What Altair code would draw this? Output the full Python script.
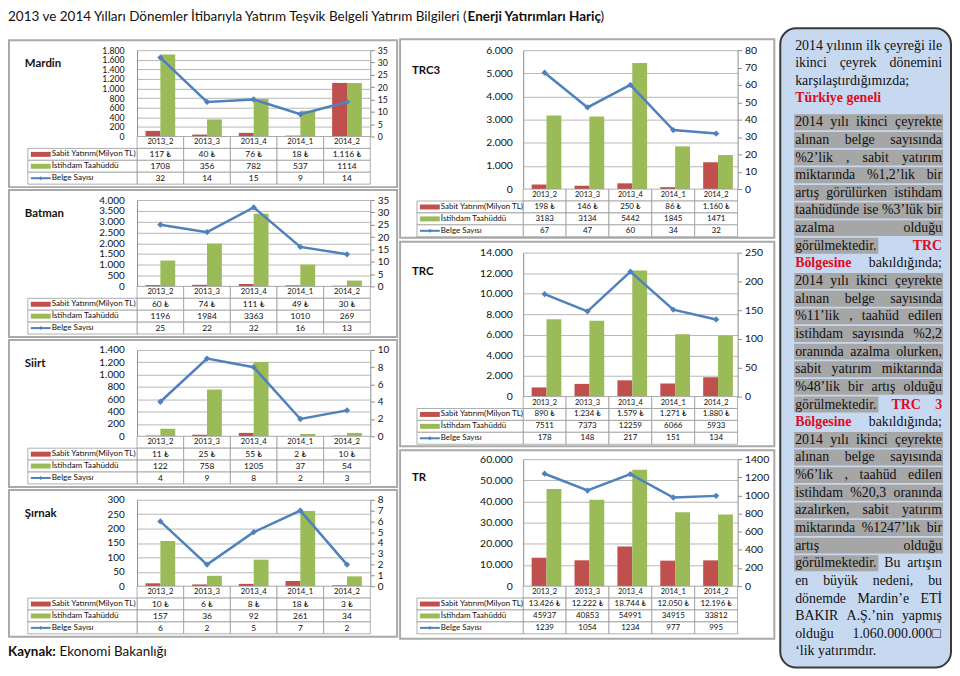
import altair as alt
import pandas as pd

# ---------------- data ----------------
periods = ["2013_2", "2013_3", "2013_4", "2014_1", "2014_2"]
series_names = ["Sabit Yatırım(Milyon TL)", "İstihdam Taahüddü"]
line_name = "Belge Sayısı"

mardin_sabit = [117, 40, 76, 18, 1116]
mardin_istihdam = [1708, 356, 782, 537, 1114]
mardin_belge = [32, 14, 15, 9, 14]
mardin_lticks = [0, 200, 400, 600, 800, 1000, 1200, 1400, 1600, 1800]
mardin_rticks = [0, 5, 10, 15, 20, 25, 30, 35]

batman_sabit = [60, 74, 111, 49, 30]
batman_istihdam = [1196, 1984, 3363, 1010, 269]
batman_belge = [25, 22, 32, 16, 13]
batman_lticks = [0, 500, 1000, 1500, 2000, 2500, 3000, 3500, 4000]
batman_rticks = [0, 5, 10, 15, 20, 25, 30, 35]

siirt_sabit = [11, 25, 55, 2, 10]
siirt_istihdam = [122, 758, 1205, 37, 54]
siirt_belge = [4, 9, 8, 2, 3]
siirt_lticks = [0, 200, 400, 600, 800, 1000, 1200, 1400]
siirt_rticks = [0, 2, 4, 6, 8, 10]

sirnak_sabit = [10, 6, 8, 18, 3]
sirnak_istihdam = [157, 36, 92, 261, 34]
sirnak_belge = [6, 2, 5, 7, 2]
sirnak_lticks = [0, 50, 100, 150, 200, 250, 300]
sirnak_rticks = [0, 1, 2, 3, 4, 5, 6, 7, 8]

trc3_sabit = [198, 146, 250, 86, 1160]
trc3_istihdam = [3183, 3134, 5442, 1845, 1471]
trc3_belge = [67, 47, 60, 34, 32]
trc3_lticks = [0, 1000, 2000, 3000, 4000, 5000, 6000]
trc3_rticks = [0, 10, 20, 30, 40, 50, 60, 70, 80]

trc_sabit = [890, 1234, 1579, 1271, 1880]
trc_istihdam = [7511, 7373, 12259, 6066, 5933]
trc_belge = [178, 148, 217, 151, 134]
trc_lticks = [0, 2000, 4000, 6000, 8000, 10000, 12000, 14000]
trc_rticks = [0, 50, 100, 150, 200, 250]

tr_sabit = [13426, 12222, 18744, 12050, 12196]
tr_istihdam = [45937, 40853, 54991, 34915, 33812]
tr_belge = [1239, 1054, 1234, 977, 995]
tr_lticks = [0, 10000, 20000, 30000, 40000, 50000, 60000]
tr_rticks = [0, 200, 400, 600, 800, 1000, 1200, 1400]

title_normal = "2013 ve 2014 Yılları Dönemler İtibarıyla Yatırım Teşvik Belgeli Yatırım Bilgileri ("
title_bold = "Enerji Yatırımları Hariç"
title_end = ")"
source_bold = "Kaynak:"
source_text = "Ekonomi Bakanlığı"

text_lines = [
    ("2014 yılının ilk çeyreği ile", True, "none"),
    ("ikinci çeyrek dönemini", True, "none"),
    ("karşılaştırdığımızda;", False, "none"),
    ("*Türkiye* *geneli*", False, "none"),
    ("2014 yılı ikinci çeyrekte", True, "all"),
    ("alınan belge sayısında", True, "all"),
    ("%2’lik , sabit yatırım", True, "all"),
    ("miktarında %1,2’lık bir", True, "all"),
    ("artış görülürken istihdam", True, "all"),
    ("taahüdünde ise %3’lük bir", True, "all"),
    ("azalma olduğu", True, "all"),
    ("görülmektedir. *TRC*", True, 1),
    ("*Bölgesine* bakıldığında;", True, "none"),
    ("2014 yılı ikinci çeyrekte", True, "all"),
    ("alınan belge sayısında", True, "all"),
    ("%11’lik , taahüd edilen", True, "all"),
    ("istihdam sayısında %2,2", True, "all"),
    ("oranında azalma olurken,", True, "all"),
    ("sabit yatırım miktarında", True, "all"),
    ("%48’lik bir artış olduğu", True, "all"),
    ("görülmektedir. *TRC* *3*", True, 1),
    ("*Bölgesine* bakıldığında;", True, "none"),
    ("2014 yılı ikinci çeyrekte", True, "all"),
    ("alınan belge sayısında", True, "all"),
    ("%6’lık , taahüd edilen", True, "all"),
    ("istihdam %20,3 oranında", True, "all"),
    ("azalırken, sabit yatırım", True, "all"),
    ("miktarında %1247’lık bir", True, "all"),
    ("artış olduğu", True, "all"),
    ("görülmektedir. Bu artışın", True, 1),
    ("en büyük nedeni, bu", True, "none"),
    ("dönemde Mardin’e ETİ", True, "none"),
    ("BAKIR A.Ş.’nin yapmış", True, "none"),
    ("olduğu 1.060.000.000□", True, "none"),
    ("‘lik yatırımdır.", False, "none"),
]

# ---------------- styles ----------------
RED = "#c0504d"
GREEN = "#9bbb59"
BLUE = "#4f81bd"
GRID = "#a6a6a6"
AXC = "#8c8c8c"
CELL = "#9a9a9a"
BORDER = "#a9a9a9"
FONT = "Lato"
TH = 48

one = pd.DataFrame({"k": [0]})


def tl(v):
    return f"{v:,}".replace(",", ".") + " ₺"


def panel(name, sabit, istihdam, belge, lticks, rticks, W, H, bleft, bright, btop, bbot,
          nx, ny, lw, fs_ax, fs_tab, fs_hdr, fs_lab, bar_po, lpad, extra=()):
    bars_df = pd.DataFrame({
        "period": periods * 2,
        "series": [series_names[0]] * 5 + [series_names[1]] * 5,
        "value": list(sabit) + list(istihdam),
    })
    line_df = pd.DataFrame({"period": periods, "belge": belge})
    rows_t = []
    for p, s, i, b in zip(periods, sabit, istihdam, belge):
        rows_t += [(p, "hdr", p), (p, "s", tl(s)), (p, "i", str(i)), (p, "b", str(b))]
    tab_df = pd.DataFrame(rows_t, columns=["period", "row", "text"])
    lab_df = pd.DataFrame({"row": ["s", "i", "b"], "label": series_names + [line_name]})

    X = alt.X("period:N", sort=periods,
              scale=alt.Scale(type="band", domain=periods, paddingInner=0, paddingOuter=0),
              axis=None)
    rows = ["hdr", "s", "i", "b"]

    def RY():
        return alt.Y("row:N", sort=rows,
                     scale=alt.Scale(type="band", domain=rows, range=[H, H + TH],
                                     paddingInner=0, paddingOuter=0),
                     axis=None)

    border = alt.Chart(one).mark_rect(filled=False, stroke=BORDER, strokeWidth=2).encode(
        x=alt.value(-bleft), x2=alt.value(W + bright),
        y=alt.value(-btop), y2=alt.value(H + bbot))

    bars = alt.Chart(bars_df).mark_bar().encode(
        x=X,
        xOffset=alt.XOffset("series:N", sort=series_names,
                            scale=alt.Scale(domain=series_names, paddingInner=0, paddingOuter=bar_po)),
        y=alt.Y("value:Q",
                scale=alt.Scale(domain=[0, lticks[-1]], range=[H, 0], nice=False),
                axis=alt.Axis(orient="left", values=lticks, title=None,
                              labelExpr="replace(format(datum.value, ','), ',', '.')",
                              grid=True, gridColor=GRID, gridWidth=0.8,
                              domainColor=AXC, ticks=False, labelPadding=lpad,
                              labelFontSize=fs_ax, labelFont=FONT, labelColor="#111",
                              labelOverlap=False, labelFlush=False)),
        color=alt.Color("series:N", scale=alt.Scale(domain=series_names, range=[RED, GREEN]),
                        legend=None),
    )

    line = alt.Chart(line_df).mark_line(
        color=BLUE, strokeWidth=2.5,
        point=alt.OverlayMarkDef(shape="diamond", size=40, color=BLUE, filled=True)).encode(
        x=X,
        y=alt.Y("belge:Q",
                scale=alt.Scale(domain=[0, rticks[-1]], range=[H, 0], nice=False),
                axis=alt.Axis(orient="right", values=rticks, format="d", title=None, grid=False,
                              domainColor=AXC, tickColor=AXC, tickSize=4, labelPadding=3,
                              labelFontSize=fs_ax, labelFont=FONT, labelColor="#111",
                              labelOverlap=False, labelFlush=False)),
    )

    cells = alt.Chart(tab_df).mark_rect(fill="white", stroke=CELL, strokeWidth=0.8).encode(
        x=X, y=RY())
    hdr_text = alt.Chart(tab_df).transform_filter("datum.row == 'hdr'").mark_text(
        fontSize=fs_hdr, font=FONT, color="#111").encode(x=X, y=RY(), text="text:N")
    val_text = alt.Chart(tab_df).transform_filter("datum.row != 'hdr'").mark_text(
        fontSize=fs_tab, font=FONT, color="#111").encode(x=X, y=RY(), text="text:N")
    lab_cells = alt.Chart(lab_df).mark_rect(fill="white", stroke=CELL, strokeWidth=0.8).encode(
        x=alt.value(-lw), x2=alt.value(0), y=RY())
    sw_s = alt.Chart(lab_df).transform_filter("datum.row == 's'").mark_point(
        shape="M-1,-0.25H1V0.25H-1Z", filled=True, size=400, opacity=1, color=RED,
        strokeWidth=0).encode(x=alt.value(-lw + 13), y=RY())
    sw_i = alt.Chart(lab_df).transform_filter("datum.row == 'i'").mark_point(
        shape="M-1,-0.25H1V0.25H-1Z", filled=True, size=400, opacity=1, color=GREEN,
        strokeWidth=0).encode(x=alt.value(-lw + 13), y=RY())
    sw_b = alt.Chart(lab_df).transform_filter("datum.row == 'b'").mark_point(
        shape="M-1,-0.1H1V0.1H-1Z", filled=True, size=400, opacity=1, color=BLUE,
        strokeWidth=0).encode(x=alt.value(-lw + 13), y=RY())
    sw_bp = alt.Chart(lab_df).transform_filter("datum.row == 'b'").mark_point(
        shape="diamond", filled=True, size=16, opacity=1, color=BLUE,
        strokeWidth=0).encode(x=alt.value(-lw + 13), y=RY())
    lab_text = alt.Chart(lab_df).mark_text(
        align="left", fontSize=fs_lab, font=FONT, color="#111").encode(
        x=alt.value(-lw + 24), y=RY(), text="label:N")
    name_text = alt.Chart(one).mark_text(
        align="left", baseline="middle", fontWeight="bold", fontSize=11.5, font=FONT,
        color="#111").encode(x=alt.value(nx), y=alt.value(ny), text=alt.value(name))

    layers = [border, bars, line, cells, hdr_text, val_text, lab_cells, sw_s, sw_i, sw_b,
              sw_bp, lab_text, name_text] + list(extra)
    return alt.layer(*layers).resolve_scale(y="independent").properties(width=W, height=H + TH)


# ---------------- left column ----------------
left_common = dict(W=235, H=87, bleft=129, bright=27, btop=10, bbot=51, nx=-113, ny=14,
                   lw=110, fs_tab=8.5, fs_hdr=7.8, fs_lab=8.2, bar_po=0.57, lpad=13)

src_layers = [
    alt.Chart(one).mark_text(align="left", baseline="middle", fontWeight="bold", fontSize=13.5,
                             font=FONT, color="#111").encode(
        x=alt.value(-130), y=alt.value(153), text=alt.value(source_bold)),
    alt.Chart(one).mark_text(align="left", baseline="middle", fontSize=13.5, font=FONT,
                             color="#111").encode(
        x=alt.value(-78), y=alt.value(153), text=alt.value(source_text)),
]

mardin = panel("Mardin", mardin_sabit, mardin_istihdam, mardin_belge, mardin_lticks,
               mardin_rticks, fs_ax=8.8, **left_common)
batman = panel("Batman", batman_sabit, batman_istihdam, batman_belge, batman_lticks,
               batman_rticks, fs_ax=10, **left_common)
siirt = panel("Siirt", siirt_sabit, siirt_istihdam, siirt_belge, siirt_lticks,
              siirt_rticks, fs_ax=10, **left_common)
sirnak = panel("Şırnak", sirnak_sabit, sirnak_istihdam, sirnak_belge, sirnak_lticks,
               sirnak_rticks, fs_ax=10, extra=src_layers, **left_common)

left_col = alt.vconcat(mardin, batman, siirt, sirnak, spacing=1)

# ---------------- middle column ----------------
mid_common = dict(W=216, bleft=124, bright=37, nx=-112, lw=107, fs_ax=10.5, fs_tab=8,
                  fs_hdr=7.5, fs_lab=8, bar_po=0.66, lpad=11)
trc3 = panel("TRC3", trc3_sabit, trc3_istihdam, trc3_belge, trc3_lticks, trc3_rticks,
             H=140, btop=11, bbot=49, ny=21, **mid_common)
trc = panel("TRC", trc_sabit, trc_istihdam, trc_belge, trc_lticks, trc_rticks,
            H=145, btop=11, bbot=50, ny=20, **mid_common)
tr = panel("TR", tr_sabit, tr_istihdam, tr_belge, tr_lticks, tr_rticks,
           H=128, btop=9, bbot=53, ny=19, **mid_common)
mid_col = alt.vconcat(trc3, trc, tr, spacing=2)

# ---------------- text box ----------------
R = {" ": 250, "%": 833, "’": 333, "‘": 333, "'": 180, "(": 333, ")": 333, ",": 250, ".": 250,
     ";": 278, ":": 278, "□": 700, "ı": 278, "ş": 389, "ğ": 500, "ç": 444, "ö": 500, "ü": 500,
     "İ": 333, "Ş": 556, "Ç": 667, "Ö": 722, "Ü": 722, "Ğ": 722}
R.update(dict(zip("ABCDEFGHIJKLMNOPQRSTUVWXYZ",
                  [722, 667, 667, 722, 611, 556, 722, 722, 333, 389, 722, 611, 889, 722, 722,
                   556, 722, 667, 556, 611, 722, 722, 944, 722, 722, 611])))
R.update(dict(zip("abcdefghijklmnopqrstuvwxyz",
                  [444, 500, 444, 500, 444, 333, 500, 500, 278, 278, 500, 278, 778, 500, 500,
                   500, 500, 333, 389, 278, 500, 500, 722, 500, 500, 444])))
B = dict(R)
B.update(dict(zip("ABCDEFGHIJKLMNOPQRSTUVWXYZ",
                  [722, 667, 722, 722, 667, 611, 778, 778, 389, 500, 778, 667, 944, 722, 778,
                   611, 778, 722, 556, 667, 722, 722, 1000, 722, 722, 667])))
B.update(dict(zip("abcdefghijklmnopqrstuvwxyz",
                  [500, 556, 444, 556, 444, 333, 500, 556, 278, 333, 556, 278, 833, 556, 500,
                   556, 556, 444, 389, 333, 556, 500, 722, 500, 500, 444])))
B.update({"ü": 556, "ö": 500, "ğ": 500, "ı": 278, "ş": 389, "ç": 444})

FS = 14.0
TX0, TLW = 19.0, 148.0


def wwidth(w, bold):
    tab = B if bold else R
    return sum(tab.get(c, 500) for c in w) * FS / 1000.0


word_rows, hl_rows = [], []
for idx, (ln, just, hl) in enumerate(text_lines):
    y = -4.5 + idx * 17.7 if idx < 4 else 72.7 + (idx - 4) * 17.77
    items = []
    for t in ln.split(" "):
        bold = t.startswith("*")
        w = t.strip("*")
        items.append((w, bold, wwidth(w, bold)))
    total = sum(it[2] for it in items)
    n = len(items)
    gap = (TLW - total) / (n - 1) if (just and n > 1) else 250 * FS / 1000.0
    x = TX0
    spans = []
    for w, bold, wd in items:
        word_rows.append({"text": w, "x": x, "y": y, "bold": bold})
        spans.append((x, x + wd))
        x += wd + gap
    if hl == "all":
        hl_rows.append({"x": TX0 - 1, "x2": TX0 + TLW + 1, "y": y - 8, "y2": y + 8})
    elif isinstance(hl, int):
        hl_rows.append({"x": TX0 - 1, "x2": spans[hl - 1][1] + 1, "y": y - 8, "y2": y + 8})

words_df = pd.DataFrame(word_rows)
hl_df = pd.DataFrame(hl_rows)
TXs = alt.Scale(domain=[0, 100], range=[0, 100], nice=False, zero=False)
TYs = alt.Scale(domain=[0, 100], range=[0, 100], nice=False, zero=False)

tb_box = alt.Chart(one).mark_rect(cornerRadius=16, fill="#c6d9f1", stroke="#3a3a3a",
                                  strokeWidth=2).encode(
    x=alt.value(4), x2=alt.value(176), y=alt.value(-22), y2=alt.value(622))
tb_hl = alt.Chart(hl_df).mark_rect(fill="#a6a6a6").encode(
    x=alt.X("x:Q", scale=TXs, axis=None), x2="x2:Q",
    y=alt.Y("y:Q", scale=TYs, axis=None), y2="y2:Q")
tb_norm = alt.Chart(words_df).transform_filter("!datum.bold").mark_text(
    align="left", baseline="middle", font="Liberation Serif", fontSize=FS, color="#111").encode(
    x=alt.X("x:Q", scale=TXs, axis=None), y=alt.Y("y:Q", scale=TYs, axis=None), text="text:N")
tb_bold = alt.Chart(words_df).transform_filter("datum.bold").mark_text(
    align="left", baseline="middle", font="Liberation Serif", fontSize=FS, fontWeight="bold",
    color="#e00b1f").encode(
    x=alt.X("x:Q", scale=TXs, axis=None), y=alt.Y("y:Q", scale=TYs, axis=None), text="text:N")
textbox = alt.layer(tb_box, tb_hl, tb_norm, tb_bold).properties(width=176, height=600)

body = alt.hconcat(left_col, mid_col, textbox, spacing=1)

# ---------------- title ----------------
TFS = 13.6
title_chart = alt.layer(
    alt.Chart(one).mark_text(align="left", baseline="middle", fontSize=TFS, font=FONT,
                             color="#111").encode(
        x=alt.value(-130), y=alt.value(0), text=alt.value(title_normal)),
    alt.Chart(one).mark_text(align="left", baseline="middle", fontSize=TFS, font=FONT,
                             fontWeight="bold", color="#111").encode(
        x=alt.value(333), y=alt.value(0), text=alt.value(title_bold)),
    alt.Chart(one).mark_text(align="left", baseline="middle", fontSize=TFS, font=FONT,
                             color="#111").encode(
        x=alt.value(467), y=alt.value(0), text=alt.value(title_end)),
).properties(width=1, height=1)

chart = alt.vconcat(title_chart, body, spacing=3).properties(
    padding={"left": 0, "top": 0, "right": 0, "bottom": 0}
).configure_view(stroke=None)

chart.save("out.html", embed_options={"renderer": "svg", "actions": False})
